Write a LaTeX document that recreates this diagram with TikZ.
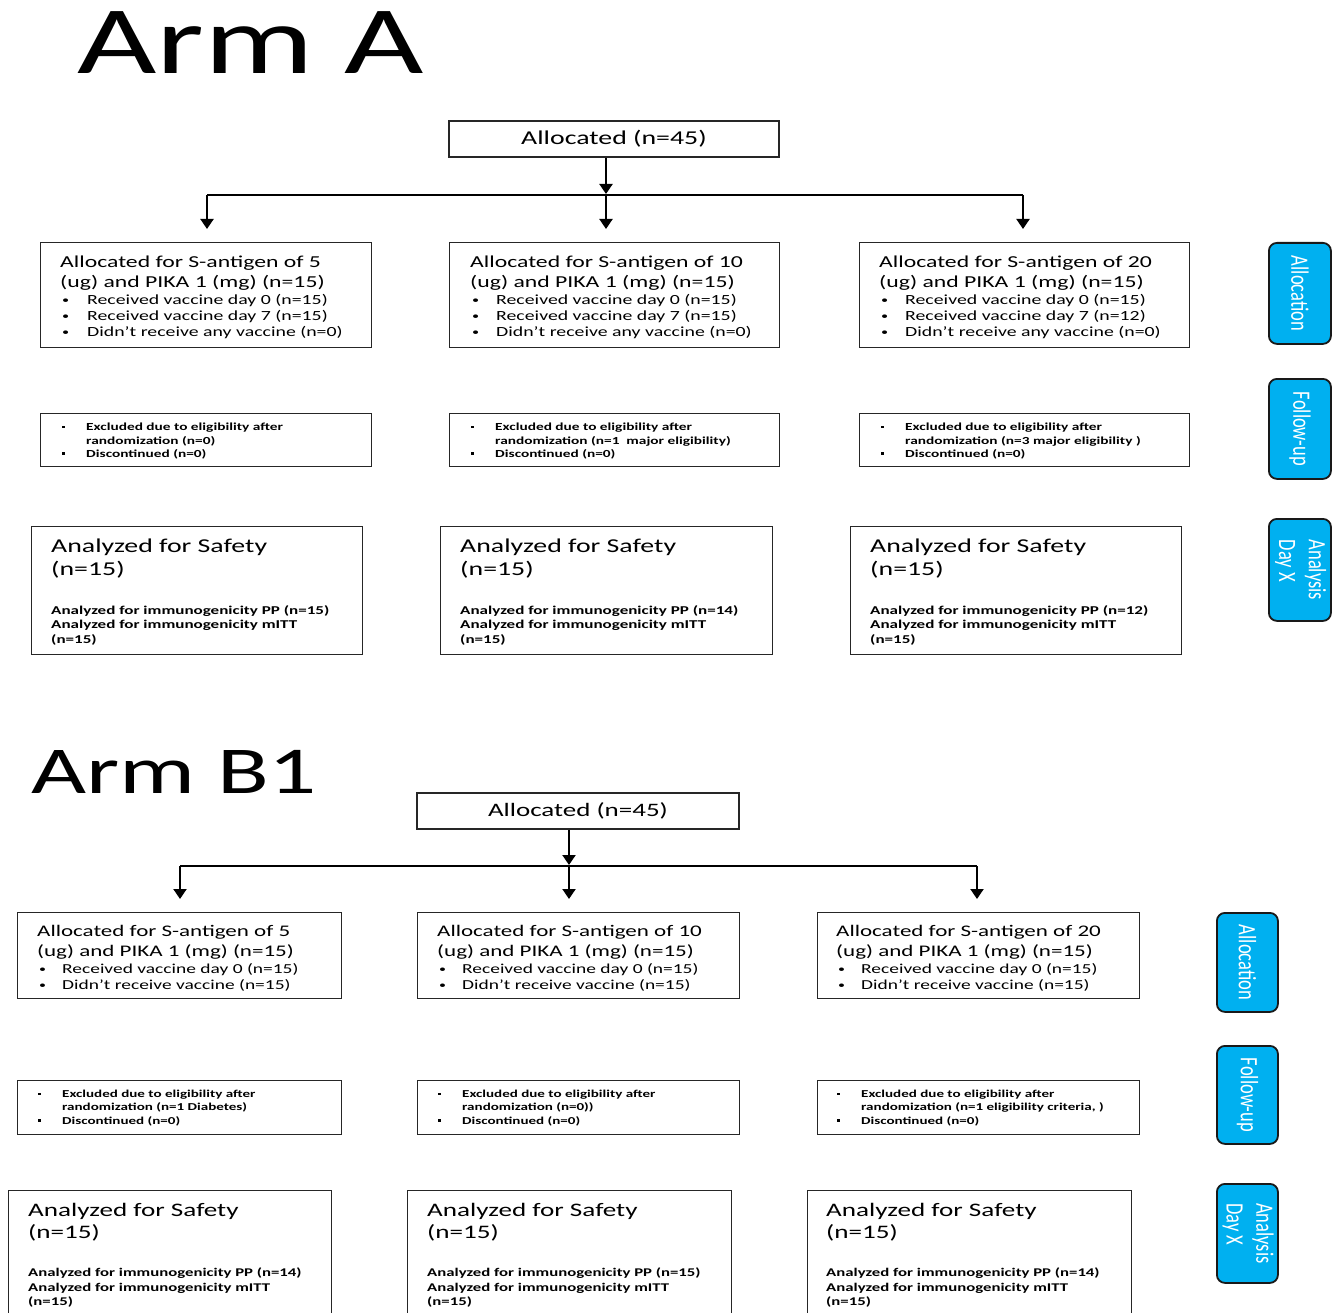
\documentclass[tikz,border=0pt]{standalone}
\usepackage{fontspec}
\setmainfont{Carlito}[FakeStretch=1.42]
\newfontfamily\labfont{Carlito}
\usetikzlibrary{arrows.meta}
\definecolor{sideblue}{HTML}{00B0F0}
\newcommand\setfs[2]{\fontsize{#1}{#2}\selectfont}
\newcommand\bul[1]{\makebox[#1][l]{\raisebox{0.8pt}{\scalebox{0.72}{\textbullet}}}}
\newcommand\sqb[1]{\makebox[#1][l]{\rule[2.6pt]{3pt}{2.4pt}}}
\newcommand\sidetxt[1]{\rotatebox{-90}{\scalebox{1}[1.35]{\labfont\setfs{18.5}{22}#1}}}
\begin{document}
\begin{tikzpicture}[x=1pt,y=-1pt,
  box/.style={draw=black!85, line width=1.3pt, inner sep=0, anchor=north west},
  txt/.style={anchor=base west, inner sep=0, text=black},
  arr/.style={line width=2pt, -{Triangle[width=13pt,length=10pt]}},
  conn/.style={line width=2pt},
  side/.style={draw=black!90, line width=1.8pt, fill=sideblue, rounded corners=8pt, text=white, inner sep=0, anchor=north west},
  hA/.style={txt, font=\setfs{16.7}{20.5}},
  bA/.style={txt, font=\setfs{13.95}{16.2}},
  eA/.style={txt, font=\bfseries\setfs{10.8}{13.3}},
  sA/.style={txt, font=\setfs{19.6}{22.5}},
  mA/.style={txt, font=\bfseries\setfs{12.0}{14.6}},
  hB/.style={txt, font=\setfs{16.2}{20}},
  bB/.style={txt, font=\setfs{13.7}{16}},
  eB/.style={txt, font=\bfseries\setfs{10.6}{13.3}},
  sB/.style={txt, font=\setfs{19.1}{22.3}},
  mB/.style={txt, font=\bfseries\setfs{11.8}{14.3}},
]
\useasboundingbox (0,0) rectangle (1335,1313);

% ================= Arm A =================
\node[txt, font=\setfs{96.5}{100}] (titleA) at (77,74) {Arm A};
\node[box, anchor=center, minimum width=330pt, minimum height=36pt, font=\setfs{19.6}{22}] (allA) at (614,139) {Allocated (n=45)};
\coordinate (jA) at (606,195);
\coordinate (lA) at (207,195);
\coordinate (rA) at (1023,195);

% row 1
\node[box, minimum width=331pt, minimum height=105pt] (a1) at (40,242) {};
\node[box, minimum width=330pt, minimum height=105pt] (a2) at (449,242) {};
\node[box, minimum width=330pt, minimum height=105pt] (a3) at (859,242) {};
\node[hA] (a1h) at (60,267.5) {\begin{tabular}[t]{@{}l@{}}Allocated for S-antigen of 5\\(ug) and PIKA 1 (mg) (n=15)\end{tabular}};
\node[hA] (a2h) at (470,267.5) {\begin{tabular}[t]{@{}l@{}}Allocated for S-antigen of 10\\(ug) and PIKA 1 (mg) (n=15)\end{tabular}};
\node[hA] (a3h) at (879,267.5) {\begin{tabular}[t]{@{}l@{}}Allocated for S-antigen of 20\\(ug) and PIKA 1 (mg) (n=15)\end{tabular}};
\node[bA] (a1b) at (62,304.3) {\begin{tabular}[t]{@{}l@{}l@{}}\bul{25pt}&Received vaccine day 0 (n=15)\\\bul{25pt}&Received vaccine day 7 (n=15)\\\bul{25pt}&Didn’t receive any vaccine (n=0)\end{tabular}};
\node[bA] (a2b) at (472,304.3) {\begin{tabular}[t]{@{}l@{}l@{}}\bul{24pt}&Received vaccine day 0 (n=15)\\\bul{24pt}&Received vaccine day 7 (n=15)\\\bul{24pt}&Didn’t receive any vaccine (n=0)\end{tabular}};
\node[bA] (a3b) at (881,304.3) {\begin{tabular}[t]{@{}l@{}l@{}}\bul{24pt}&Received vaccine day 0 (n=15)\\\bul{24pt}&Received vaccine day 7 (n=12)\\\bul{24pt}&Didn’t receive any vaccine (n=0)\end{tabular}};

% row 2
\node[box, minimum width=331pt, minimum height=53pt] (a4) at (40,413) {};
\node[box, minimum width=330pt, minimum height=53pt] (a5) at (449,413) {};
\node[box, minimum width=330pt, minimum height=53pt] (a6) at (859,413) {};
\node[eA] (a4t) at (62,430.7) {\begin{tabular}[t]{@{}l@{}l@{}}\sqb{24pt}&Excluded due to eligibility after\\&randomization (n=0)\\\sqb{24pt}&Discontinued (n=0)\end{tabular}};
\node[eA] (a5t) at (471,430.7) {\begin{tabular}[t]{@{}l@{}l@{}}\sqb{24pt}&Excluded due to eligibility after\\&randomization (n=1~~major eligibility)\\\sqb{24pt}&Discontinued (n=0)\end{tabular}};
\node[eA] (a6t) at (881,430.7) {\begin{tabular}[t]{@{}l@{}l@{}}\sqb{24pt}&Excluded due to eligibility after\\&randomization (n=3 major eligibility )\\\sqb{24pt}&Discontinued (n=0)\end{tabular}};

% row 3
\node[box, minimum width=331pt, minimum height=128pt] (a7) at (31,526) {};
\node[box, minimum width=332pt, minimum height=128pt] (a8) at (440,526) {};
\node[box, minimum width=331pt, minimum height=128pt] (a9) at (850,526) {};
\node[sA] (a7h) at (51,552.5) {\begin{tabular}[t]{@{}l@{}}Analyzed for Safety\\(n=15)\end{tabular}};
\node[sA] (a8h) at (460,552.5) {\begin{tabular}[t]{@{}l@{}}Analyzed for Safety\\(n=15)\end{tabular}};
\node[sA] (a9h) at (870,552.5) {\begin{tabular}[t]{@{}l@{}}Analyzed for Safety\\(n=15)\end{tabular}};
\node[mA] (a7m) at (51,614) {\begin{tabular}[t]{@{}l@{}}Analyzed for immunogenicity PP (n=15)\\Analyzed for immunogenicity mITT\\(n=15)\end{tabular}};
\node[mA] (a8m) at (460,614) {\begin{tabular}[t]{@{}l@{}}Analyzed for immunogenicity PP (n=14)\\Analyzed for immunogenicity mITT\\(n=15)\end{tabular}};
\node[mA] (a9m) at (870,614) {\begin{tabular}[t]{@{}l@{}}Analyzed for immunogenicity PP (n=12)\\Analyzed for immunogenicity mITT\\(n=15)\end{tabular}};

% connectors A
\draw[arr, shorten >=1pt] (allA.south -| jA) -- (jA);
\draw[conn] (lA) -- (rA);
\draw[arr, shorten >=13pt] (lA) -- (a1.north -| lA);
\draw[arr, shorten >=13pt] (jA) -- (a2.north -| jA);
\draw[arr, shorten >=13pt] (rA) -- (a3.north -| rA);

% side labels A
\node[side, minimum width=62pt, minimum height=101pt] (sA1) at (1268,242) {\sidetxt{Allocation}};
\node[side, minimum width=62pt, minimum height=100pt] (sA2) at (1268,378) {\sidetxt{Follow-up}};
\node[side, minimum width=62pt, minimum height=102pt] (sA3) at (1268,518) {\sidetxt{\begin{tabular}{@{}l@{}}Analysis\\Day X\end{tabular}}};

% ================= Arm B1 =================
\node[txt, font=\setfs{67}{72}] (titleB) at (31,793) {Arm B1};
\node[box, anchor=center, minimum width=322pt, minimum height=36pt, font=\setfs{19.0}{22}] (allB) at (578,811) {Allocated (n=45)};
\coordinate (jB) at (569,866);
\coordinate (lB) at (180,866);
\coordinate (rB) at (977,866);

% row 1
\node[box, minimum width=324pt, minimum height=86pt] (b1) at (17,912) {};
\node[box, minimum width=322pt, minimum height=86pt] (b2) at (417,912) {};
\node[box, minimum width=322pt, minimum height=86pt] (b3) at (817,912) {};
\node[hB] (b1h) at (37,936.5) {\begin{tabular}[t]{@{}l@{}}Allocated for S-antigen of 5\\(ug) and PIKA 1 (mg) (n=15)\end{tabular}};
\node[hB] (b2h) at (437,936.5) {\begin{tabular}[t]{@{}l@{}}Allocated for S-antigen of 10\\(ug) and PIKA 1 (mg) (n=15)\end{tabular}};
\node[hB] (b3h) at (836,936.5) {\begin{tabular}[t]{@{}l@{}}Allocated for S-antigen of 20\\(ug) and PIKA 1 (mg) (n=15)\end{tabular}};
\node[bB] (b1b) at (39,973.3) {\begin{tabular}[t]{@{}l@{}l@{}}\bul{23pt}&Received vaccine day 0 (n=15)\\\bul{23pt}&Didn’t receive vaccine (n=15)\end{tabular}};
\node[bB] (b2b) at (439,973.3) {\begin{tabular}[t]{@{}l@{}l@{}}\bul{23pt}&Received vaccine day 0 (n=15)\\\bul{23pt}&Didn’t receive vaccine (n=15)\end{tabular}};
\node[bB] (b3b) at (838,973.3) {\begin{tabular}[t]{@{}l@{}l@{}}\bul{23pt}&Received vaccine day 0 (n=15)\\\bul{23pt}&Didn’t receive vaccine (n=15)\end{tabular}};

% row 2
\node[box, minimum width=324pt, minimum height=54pt] (b4) at (17,1080) {};
\node[box, minimum width=322pt, minimum height=54pt] (b5) at (417,1080) {};
\node[box, minimum width=322pt, minimum height=54pt] (b6) at (817,1080) {};
\node[eB] (b4t) at (38,1097.5) {\begin{tabular}[t]{@{}l@{}l@{}}\sqb{24pt}&Excluded due to eligibility after\\&randomization (n=1 Diabetes)\\\sqb{24pt}&Discontinued (n=0)\end{tabular}};
\node[eB] (b5t) at (438,1097.5) {\begin{tabular}[t]{@{}l@{}l@{}}\sqb{24pt}&Excluded due to eligibility after\\&randomization (n=0))\\\sqb{24pt}&Discontinued (n=0)\end{tabular}};
\node[eB] (b6t) at (837,1097.5) {\begin{tabular}[t]{@{}l@{}l@{}}\sqb{24pt}&Excluded due to eligibility after\\&randomization (n=1 eligibility criteria, )\\\sqb{24pt}&Discontinued (n=0)\end{tabular}};

% row 3
\node[box, minimum width=323pt, minimum height=200pt] (b7) at (8,1190) {};
\node[box, minimum width=324pt, minimum height=200pt] (b8) at (407,1190) {};
\node[box, minimum width=324pt, minimum height=200pt] (b9) at (807,1190) {};
\node[sB] (b7h) at (28,1216) {\begin{tabular}[t]{@{}l@{}}Analyzed for Safety\\(n=15)\end{tabular}};
\node[sB] (b8h) at (427,1216) {\begin{tabular}[t]{@{}l@{}}Analyzed for Safety\\(n=15)\end{tabular}};
\node[sB] (b9h) at (826,1216) {\begin{tabular}[t]{@{}l@{}}Analyzed for Safety\\(n=15)\end{tabular}};
\node[mB] (b7m) at (28,1276.7) {\begin{tabular}[t]{@{}l@{}}Analyzed for immunogenicity PP (n=14)\\Analyzed for immunogenicity mITT\\(n=15)\end{tabular}};
\node[mB] (b8m) at (427,1276.7) {\begin{tabular}[t]{@{}l@{}}Analyzed for immunogenicity PP (n=15)\\Analyzed for immunogenicity mITT\\(n=15)\end{tabular}};
\node[mB] (b9m) at (826,1276.7) {\begin{tabular}[t]{@{}l@{}}Analyzed for immunogenicity PP (n=14)\\Analyzed for immunogenicity mITT\\(n=15)\end{tabular}};

% connectors B
\draw[arr, shorten >=1pt] (allB.south -| jB) -- (jB);
\draw[conn] (lB) -- (rB);
\draw[arr, shorten >=13pt] (lB) -- (b1.north -| lB);
\draw[arr, shorten >=13pt] (jB) -- (b2.north -| jB);
\draw[arr, shorten >=13pt] (rB) -- (b3.north -| rB);

% side labels B
\node[side, minimum width=61pt, minimum height=99pt] (sB1) at (1216,912) {\sidetxt{Allocation}};
\node[side, minimum width=61pt, minimum height=98pt] (sB2) at (1216,1045) {\sidetxt{Follow-up}};
\node[side, minimum width=61pt, minimum height=99pt] (sB3) at (1216,1183) {\sidetxt{\begin{tabular}{@{}l@{}}Analysis\\Day X\end{tabular}}};
\end{tikzpicture}
\end{document}
